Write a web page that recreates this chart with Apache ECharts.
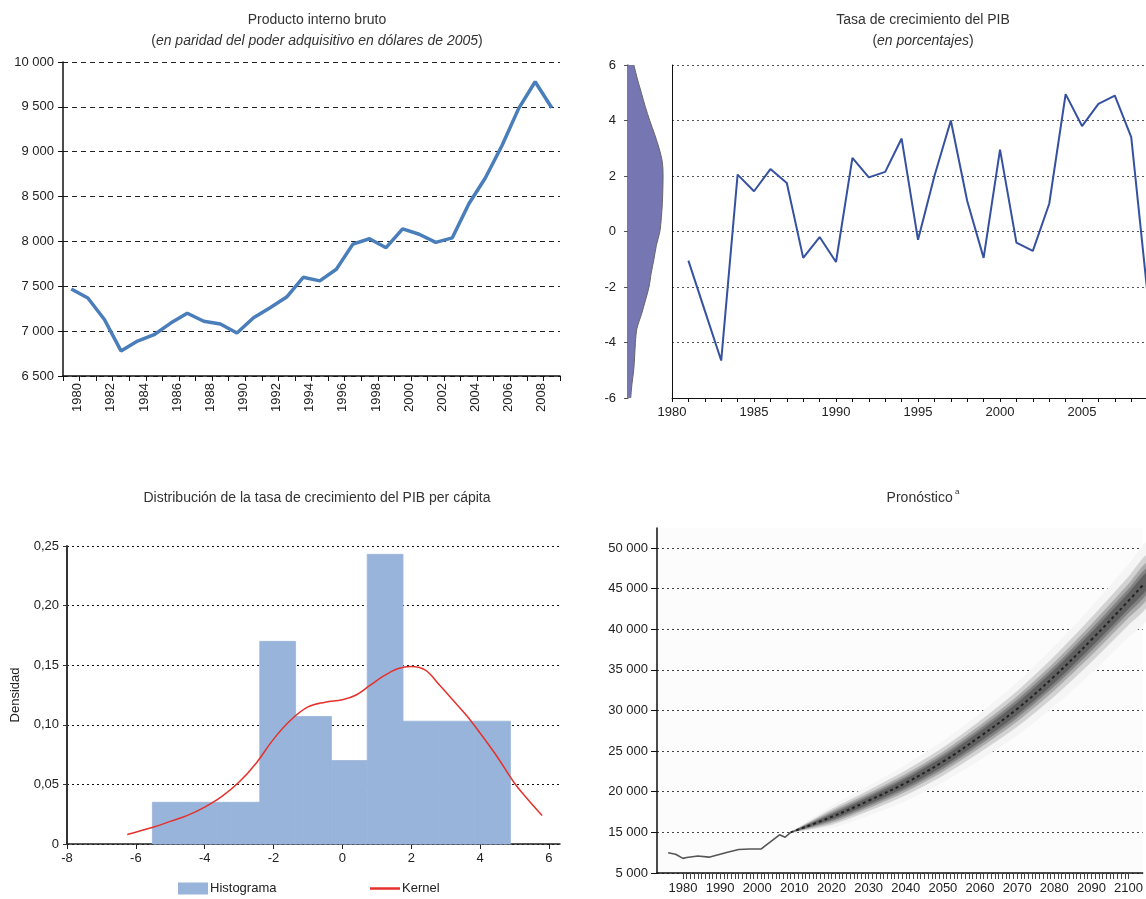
<!DOCTYPE html>
<html><head><meta charset="utf-8">
<script src="https://cdn.jsdelivr.net/npm/echarts@6/dist/echarts.min.js"></script>
<style>html,body{margin:0;padding:0;background:#fff}#c{width:1146px;height:899px}</style>
</head><body><div id="c"></div>
<script>
// ---------- Data ----------
// Panel 1: GDP (PPP, 2005 dollars)
const gdpYears = ['1980','1981','1982','1983','1984','1985','1986','1987','1988','1989','1990','1991','1992','1993','1994','1995','1996','1997','1998','1999','2000','2001','2002','2003','2004','2005','2006','2007','2008','2009'];
const gdpValues = [7470,7370,7130,6780,6890,6960,7090,7200,7110,7080,6980,7150,7260,7380,7600,7560,7690,7970,8030,7930,8140,8080,7990,8040,8420,8710,9070,9480,9780,9490];

// Panel 2: GDP growth rate (%)
const growthYears = [1981,1982,1983,1984,1985,1986,1987,1988,1989,1990,1991,1992,1993,1994,1995,1996,1997,1998,1999,2000,2001,2002,2003,2004,2005,2006,2007,2008,2009];
const growthValues = [-1.05,-2.85,-4.65,2.05,1.45,2.25,1.75,-0.95,-0.2,-1.1,2.65,1.95,2.15,3.35,-0.3,2.0,4.0,1.1,-0.95,2.95,-0.4,-0.7,1.0,4.95,3.8,4.6,4.9,3.4,-2.3];
const growthXLabels = [1980,1985,1990,1995,2000,2005];
// marginal density of growth (levels bottom -> top)
const densityLevels = ['-6','-5.5','-5','-4.5','-4','-3.5','-3','-2.5','-2','-1.5','-1','-0.5','0','0.5','1','1.5','2','2.5','3','3.5','4','4.5','5','5.5','6'];
const densityValues = [0.011,0.016,0.023,0.027,0.030,0.036,0.054,0.070,0.085,0.094,0.105,0.115,0.129,0.135,0.139,0.141,0.142,0.139,0.126,0.108,0.088,0.070,0.054,0.038,0.024];

// Panel 3: distribution of per-capita growth
const histLeft  = [-5.52,-4.48,-3.44,-2.40,-1.36,-0.32,0.72,1.76,2.80,3.84];
const histRight = [-4.48,-3.44,-2.40,-1.36,-0.32,0.72,1.76,2.80,3.84,4.88];
const histHeights = [0.035,0.035,0.035,0.170,0.107,0.070,0.243,0.103,0.103,0.103];
const kernelX = [-6.25,-5.5,-5.0,-4.5,-4.0,-3.5,-3.0,-2.5,-2.0,-1.5,-1.0,-0.5,0.0,0.4,0.8,1.2,1.6,2.0,2.4,2.8,3.2,3.6,4.0,4.5,5.0,5.4,5.8];
const kernelY = [0.008,0.014,0.019,0.024,0.031,0.040,0.052,0.068,0.088,0.104,0.115,0.119,0.121,0.125,0.133,0.141,0.147,0.149,0.146,0.134,0.121,0.108,0.093,0.073,0.051,0.037,0.024];
const p3XLabels = [-8,-6,-4,-2,0,2,4,6];

// Panel 4: forecast
const fcHistYears  = [1976,1978,1980,1981,1984,1987,1992,1995,1998,2001,2003,2006,2007.5,2009];
const fcHistValues = [12500,12300,11800,11900,12100,11950,12550,12900,12950,12950,13650,14700,14400,15000];
const fcYears  = [2009,2020,2030,2040,2050,2060,2070,2080,2090,2100,2105];
const fcMedian = [15000,16900,18900,21100,23700,26800,30200,34200,38700,43500,46000];
const fcSpread1 = [0,300,400,480,550,620,700,780,860,940,980];
const fcSpread2 = [0,480,640,760,860,960,1080,1200,1320,1440,1500];
const fcSpread3 = [0,700,900,1060,1200,1350,1520,1700,1880,2060,2150];
const fcSpread4 = [0,950,1250,1500,1700,1920,2180,2450,2700,2950,3070];
const fcSpread5 = [0,1350,1800,2200,2500,2850,3250,3650,4050,4450,4650];
const fcYTickValues = [10000,15000,20000,25000,30000,35000,40000,45000,50000];
const fcYTickLabels = ['5 000','15 000','20 000','25 000','30 000','35 000','40 000','45 000','50 000'];
const fcXLabels = [1980,1990,2000,2010,2020,2030,2040,2050,2060,2070,2080,2090,2100];

// ---------- Helpers ----------
const FONT = '"Liberation Sans", Arial, sans-serif';
const TXT = '#222';
const fmt = v => String(Math.round(v)).replace(/\B(?=(\d{3})+(?!\d))/g, ' ');
const growthTicks = []; for (let y = 1980; y <= 2008; y++) growthTicks.push(y);
const fcTicks = []; for (let y = 1980; y <= 2100; y++) fcTicks.push(y);

function titleRich(lines, left, top) {
  return {
    left: left, top: top, textAlign: 'center',
    text: lines,
    textStyle: {
      fontWeight: 'normal',
      rich: {
        n: {fontFamily: FONT, fontSize: 14, fontWeight: 'normal', color: '#333', lineHeight: 21},
        i: {fontFamily: FONT, fontSize: 14, fontWeight: 'normal', color: '#333', fontStyle: 'italic', lineHeight: 21},
        s: {fontFamily: FONT, fontSize: 8, fontWeight: 'normal', color: '#333', verticalAlign: 'top', lineHeight: 21, padding: [0,0,6,0]}
      }
    }
  };
}

// fan bands, widest first (drawn nested)
const fanBands = [
  {spread: fcSpread5, color: '#f5f5f5'},
  {spread: fcSpread4, color: '#d2d2d2'},
  {spread: fcSpread3, color: '#a9a9a9'},
  {spread: fcSpread2, color: '#828282'},
  {spread: fcSpread1, color: '#606060'}
];

const option = {
  backgroundColor: '#ffffff',
  animation: false,
  textStyle: {fontFamily: FONT},
  title: [
    titleRich('{n|Producto interno bruto}\n{n|(}{i|en paridad del poder adquisitivo en dólares de 2005}{n|)}', 312, 5),
    titleRich('{n|Tasa de crecimiento del PIB}\n{n|(}{i|en porcentajes}{n|)}', 918, 5),
    titleRich('{n|Distribución de la tasa de crecimiento del PIB per cápita}', 312, 483),
    titleRich('{n|Pronóstico}{s| a}', 918, 483)
  ],
  legend: [
    {left: 178, top: 882, padding: 0, itemWidth: 30, itemHeight: 12, itemGap: 4,
     textStyle: {fontFamily: FONT, fontSize: 13, color: TXT, padding: [0,0,0,-3]},
     data: [{name: 'Histograma', icon: 'rect'}]},
    {left: 370, top: 882, padding: 0, itemWidth: 30, itemHeight: 12,
     textStyle: {fontFamily: FONT, fontSize: 13, color: TXT, padding: [0,0,0,-3]},
     data: [{name: 'Kernel', icon: 'path://M0,0H30V2.5H0Z'}]}
  ],
  grid: [
    {left: 63, top: 62, width: 497, height: 314},
    {left: 628, top: 65, width: 40, height: 333},
    {left: 672, top: 65, width: 474, height: 333},
    {left: 67, top: 546, width: 493, height: 298},
    {left: 657, top: 528, width: 489, height: 345, show: true, backgroundColor: '#fcfcfc', borderWidth: 0}
  ],
  xAxis: [
    {gridIndex: 0, type: 'category', data: gdpYears, boundaryGap: true,
     axisLine: {lineStyle: {color: '#111', width: 1.5}},
     axisTick: {show: true, interval: 0, length: 5, lineStyle: {color: '#111'}},
     axisLabel: {interval: 1, rotate: 90, verticalAlign: 'top', fontSize: 13, color: TXT, margin: 7, fontFamily: FONT},
     splitLine: {show: false}},
    {gridIndex: 1, type: 'value', min: 0, max: 0.162, show: false},
    {gridIndex: 2, type: 'value', min: 1980, max: 2008.9,
     axisLine: {onZero: false, lineStyle: {color: '#111', width: 1}},
     axisTick: {show: true, length: 4, customValues: growthTicks, lineStyle: {color: '#111'}},
     axisLabel: {customValues: growthXLabels, fontSize: 13, color: TXT, margin: 8, fontFamily: FONT, formatter: v => String(v)},
     splitLine: {show: false}},
    {gridIndex: 3, type: 'value', min: -8, max: 6.32,
     axisLine: {onZero: true, lineStyle: {color: '#222', width: 1.5}},
     axisTick: {show: true, length: 5, customValues: p3XLabels, lineStyle: {color: '#222'}},
     axisLabel: {customValues: p3XLabels, fontSize: 13, color: TXT, margin: 8, fontFamily: FONT, formatter: v => String(v)},
     splitLine: {show: false}},
    {gridIndex: 4, type: 'value', min: 1973, max: 2103.8,
     axisLine: {onZero: false, lineStyle: {color: '#111', width: 1.5}},
     axisTick: {show: true, length: 6, customValues: fcTicks, lineStyle: {color: '#444', width: 1}},
     axisLabel: {customValues: fcXLabels, fontSize: 13, color: TXT, margin: 9, fontFamily: FONT, formatter: v => String(v)},
     splitLine: {show: false}}
  ],
  yAxis: [
    {gridIndex: 0, type: 'value', min: 6500, max: 10000, interval: 500,
     axisLine: {show: true, lineStyle: {color: '#111', width: 1.5}},
     axisTick: {show: true, length: 5, lineStyle: {color: '#111'}},
     axisLabel: {formatter: v => fmt(v), fontSize: 13, color: TXT, margin: 9, fontFamily: FONT},
     splitLine: {show: true, lineStyle: {color: '#222', type: [5, 4], width: 1}}},
    {gridIndex: 1, type: 'category', data: densityLevels, boundaryGap: false,
     axisLine: {show: true, onZero: false, lineStyle: {color: '#555', width: 1.5}},
     axisTick: {show: true, length: 4, interval: (i) => i % 4 === 0, lineStyle: {color: '#555'}},
     axisLabel: {interval: (i) => i % 4 === 0, fontSize: 13, color: TXT, margin: 12, fontFamily: FONT},
     splitLine: {show: false}},
    {gridIndex: 2, type: 'value', min: -6, max: 6, interval: 2,
     axisLine: {show: true, onZero: false, lineStyle: {color: '#111', width: 1}},
     axisTick: {show: false}, axisLabel: {show: false},
     splitLine: {show: true, lineStyle: {color: '#555', type: [2, 3], width: 1}}},
    {gridIndex: 3, type: 'value', min: 0, max: 0.25, interval: 0.05,
     name: 'Densidad', nameLocation: 'middle', nameGap: 45, nameRotate: 90,
     nameTextStyle: {fontSize: 13, color: TXT, fontFamily: FONT},
     axisLine: {show: true, onZero: false, lineStyle: {color: '#333', width: 2}},
     axisTick: {show: true, length: 4, lineStyle: {color: '#333'}},
     axisLabel: {formatter: v => v === 0 ? '0' : v.toFixed(2).replace('.', ','), fontSize: 13, color: TXT, margin: 8, fontFamily: FONT},
     splitLine: {show: true, lineStyle: {color: '#111', type: [2, 3], width: 1}}},
    {gridIndex: 4, type: 'value', min: 10000, max: 52460,
     axisLine: {show: true, onZero: false, lineStyle: {color: '#111', width: 1.5}},
     axisTick: {show: true, length: 6, customValues: fcYTickValues, lineStyle: {color: '#111'}},
     axisLabel: {customValues: fcYTickValues, formatter: v => fcYTickLabels[fcYTickValues.indexOf(v)] || '', fontSize: 13, color: TXT, margin: 9, fontFamily: FONT},
     splitLine: {show: true, lineStyle: {color: '#444', type: [2, 3], width: 1}}}
  ],
  series: [
    {type: 'line', name: 'PIB', xAxisIndex: 0, yAxisIndex: 0, data: gdpValues,
     symbol: 'none', lineStyle: {color: '#4a7ebb', width: 3.5}, itemStyle: {color: '#4a7ebb'}},
    {type: 'line', name: 'densidad', xAxisIndex: 1, yAxisIndex: 1, data: densityValues,
     symbol: 'none', smooth: 0.3, lineStyle: {color: '#666', width: 1},
     areaStyle: {color: '#7676b3', opacity: 1}},
    {type: 'line', name: 'crecimiento', xAxisIndex: 2, yAxisIndex: 2,
     data: growthYears.map((y, i) => [y, growthValues[i]]),
     symbol: 'none', lineStyle: {color: '#3551a0', width: 2}, itemStyle: {color: '#3551a0'}},
    {type: 'custom', name: 'Histograma', xAxisIndex: 3, yAxisIndex: 3,
     data: histLeft.map((l, i) => [l, histRight[i], histHeights[i]]),
     encode: {x: [0, 1], y: 2},
     itemStyle: {color: '#99b4da'},
     renderItem: (params, api) => {
       const p0 = api.coord([api.value(0), api.value(2)]);
       const p1 = api.coord([api.value(1), 0]);
       return {type: 'rect', shape: {x: p0[0], y: p0[1], width: p1[0] - p0[0], height: p1[1] - p0[1]},
               style: {fill: '#99b4da', stroke: '#99b4da', lineWidth: 0.8}};
     }},
    {type: 'line', name: 'Kernel', xAxisIndex: 3, yAxisIndex: 3,
     data: kernelX.map((x, i) => [x, kernelY[i]]), smooth: 0.4, symbol: 'none',
     lineStyle: {color: '#e5312c', width: 1.5}, itemStyle: {color: '#e5312c'}, z: 3},
    {type: 'custom', name: 'abanico', xAxisIndex: 4, yAxisIndex: 4, silent: true,
     data: fanBands.map((b, k) => [fcYears[0], fcMedian[0], k]),
     encode: {x: 0, y: 1},
     renderItem: (params, api) => {
       const k = api.value(2);
       const band = fanBands[k];
       const upper = fcYears.map((y, i) => api.coord([y, fcMedian[i] + band.spread[i]]));
       const lower = fcYears.map((y, i) => api.coord([y, fcMedian[i] - band.spread[i]])).reverse();
       return {type: 'polygon', shape: {points: upper.concat(lower), smooth: 0.25},
               style: {fill: band.color, stroke: band.color, lineWidth: 0.5}};
     }, z: 2},
    {type: 'line', name: 'mediana', xAxisIndex: 4, yAxisIndex: 4,
     data: fcYears.map((y, i) => [y, fcMedian[i]]), smooth: 0.4, symbol: 'none',
     lineStyle: {color: '#222', width: 2, type: [3, 3]}, z: 4},
    {type: 'line', name: 'historia', xAxisIndex: 4, yAxisIndex: 4,
     data: fcHistYears.map((y, i) => [y, fcHistValues[i]]), symbol: 'none',
     lineStyle: {color: '#555', width: 1.6}, z: 4}
  ]
};
const chart = echarts.init(document.getElementById('c'));
chart.setOption(option);
</script>
</body></html>
